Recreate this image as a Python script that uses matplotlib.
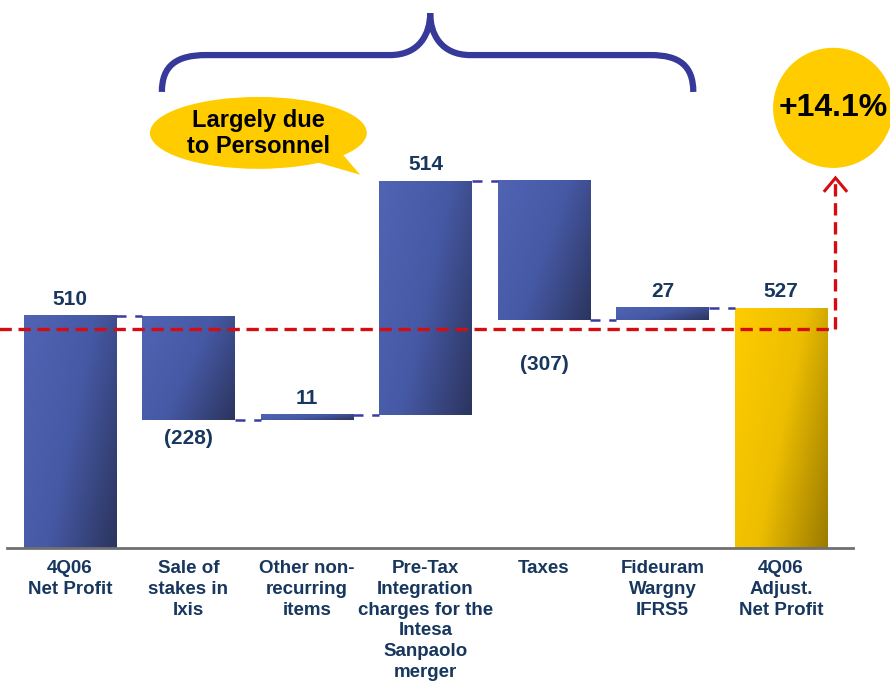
import numpy as np
import matplotlib.pyplot as plt
from matplotlib import font_manager
from matplotlib.colors import LinearSegmentedColormap
from matplotlib.patches import Ellipse, Polygon, PathPatch
from matplotlib.path import Path

categories = ['4Q06\nNet Profit', 'Sale of\nstakes in\nIxis', 'Other non-\nrecurring\nitems',
              'Pre-Tax\nIntegration\ncharges for the\nIntesa\nSanpaolo\nmerger',
              'Taxes', 'Fideuram\nWargny\nIFRS5', '4Q06\nAdjust.\nNet Profit']
changes = [510, -228, 11, 514, -307, 27]
final_total = 527
value_labels = ['510', '(228)', '11', '514', '(307)', '27', '527']
reference_level = 481
growth_label = '+14.1%'
bubble_text = 'Largely due\nto Personnel'

installed = {f.name for f in font_manager.fontManager.ttflist}
FONT = 'Liberation Sans' if 'Liberation Sans' in installed else 'DejaVu Sans'
NAVY = '#17375e'
BLUE_LINE = '#3a3ba4'
RED = '#d40d12'
GOLD = '#ffcc00'

blue_cmap = LinearSegmentedColormap.from_list('blue', ['#5064b4', '#4659a5', '#2c355f'])
gold_cmap = LinearSegmentedColormap.from_list('gold', ['#ffcc00', '#edbe00', '#9c7b00'])

# waterfall geometry
bottoms, tops = [], []
level = 0
for c in changes:
    new = level + c
    bottoms.append(min(level, new))
    tops.append(max(level, new))
    level = new
bottoms.append(0)
tops.append(final_total)
levels = np.cumsum(changes)
steps = changes + [final_total]

fig = plt.figure(figsize=(8.9, 6.87), dpi=100)
ax = fig.add_axes([0, 0, 1, 1])
ax.axis('off')

width = 0.78
n = np.arange(len(categories))
jj, ii = np.meshgrid(np.linspace(0, 1, 60), np.linspace(0, 1, 60))
grad = 0.65 * jj + 0.35 * ii

for i in n:
    cmap = gold_cmap if i == len(n) - 1 else blue_cmap
    ax.imshow(grad, cmap=cmap, extent=(i - width / 2, i + width / 2, bottoms[i], tops[i]),
              aspect='auto', origin='upper', zorder=2, interpolation='bilinear')

# connectors
for i, lv in enumerate(levels):
    ax.plot([i + width / 2, i + 1 - width / 2], [lv, lv], color=BLUE_LINE, lw=1.8,
            dashes=(4.0, 3.5), zorder=3)

# baseline
ax.plot([-0.53, 6.61], [0, 0], color='#707070', lw=2, zorder=3)

# value labels
for i in n:
    if steps[i] > 0:
        ax.annotate(value_labels[i], (i, tops[i]), xytext=(0, 5), textcoords='offset points',
                    ha='center', va='bottom', fontsize=15, fontweight='bold', color=NAVY,
                    family=FONT, zorder=5)
    else:
        pad = -25 if i == 4 else -7
        ax.annotate(value_labels[i], (i, bottoms[i]), xytext=(0, pad), textcoords='offset points',
                    ha='center', va='top', fontsize=15, fontweight='bold', color=NAVY,
                    family=FONT, zorder=5)

# category labels
for i, lab in enumerate(categories):
    ax.annotate(lab, (i, 0), xytext=(0, -8.5), textcoords='offset points', ha='center', va='top',
                fontsize=13.5, fontweight='bold', color=NAVY, family=FONT, linespacing=1.3)

# red reference line with arrow to the circle
ax.plot([-0.6, 6.46, 6.46], [reference_level, reference_level, 804], color=RED, lw=2.4,
        dashes=(3.7, 2.0), zorder=4)
ax.plot([6.46 - 0.09, 6.46, 6.46 + 0.09], [785, 813, 785], color=RED, lw=2.2, zorder=4,
        solid_joinstyle='miter')

ax.add_patch(Ellipse((6.44, 967), 1.013, 264, facecolor=GOLD, edgecolor='none', zorder=4))
ax.text(6.44, 967, growth_label, ha='center', va='center', fontsize=23, fontweight='bold',
        color='black', family=FONT, zorder=5)

# brace over the one-off items
verts = [(0.776, 1002), (0.776, 1060), (0.9, 1083), (1.15, 1083),
         (2.7, 1083),
         (2.95, 1083), (3.04, 1130), (3.04, 1175),
         (3.04, 1130), (3.13, 1083), (3.38, 1083),
         (4.9, 1083),
         (5.14, 1083), (5.26, 1060), (5.26, 1002)]
codes = [Path.MOVETO, Path.CURVE4, Path.CURVE4, Path.CURVE4,
         Path.LINETO,
         Path.CURVE4, Path.CURVE4, Path.CURVE4,
         Path.CURVE4, Path.CURVE4, Path.CURVE4,
         Path.LINETO,
         Path.CURVE4, Path.CURVE4, Path.CURVE4]
ax.add_patch(PathPatch(Path(verts, codes), facecolor='none', edgecolor='#36399a', lw=4.5,
                       capstyle='butt', zorder=4))

# speech bubble
ax.add_patch(Polygon([(2.05, 850), (2.45, 820), (2.25, 880)], closed=True, facecolor=GOLD,
                     edgecolor='none', zorder=4))
ax.add_patch(Ellipse((1.59, 912), 1.83, 158, facecolor=GOLD, edgecolor='none', zorder=4))
ax.text(1.59, 910, bubble_text, ha='center', va='center', fontsize=17, fontweight='bold',
        color='black', family=FONT, linespacing=1.15, zorder=5)

ax.set_xlim(-0.59, 6.92)
ax.set_ylim(-305.5, 1204)

fig.savefig('out.png', dpi=100)
